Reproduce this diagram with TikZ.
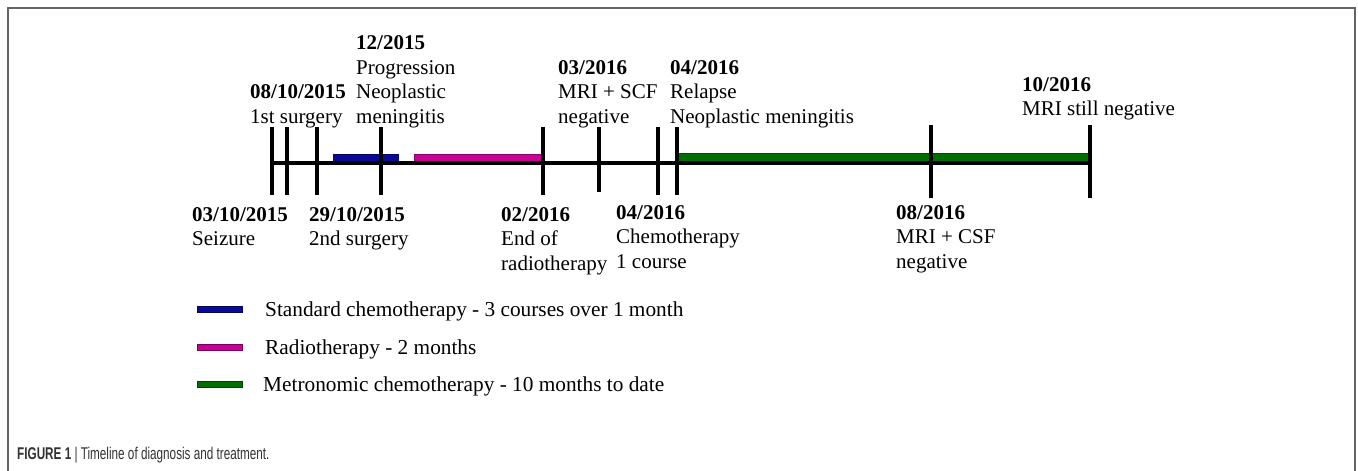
\documentclass[tikz,border=0pt]{standalone}
\usepackage{fontspec}
\setmainfont{Liberation Serif}
\newfontfamily\capfont[FakeStretch=0.69]{Liberation Sans}
\definecolor{chemoblue}{RGB}{10,10,150}
\definecolor{radiomag}{RGB}{200,0,150}
\definecolor{metrogreen}{RGB}{0,110,0}
\definecolor{framegray}{RGB}{100,100,100}
\definecolor{capgray}{RGB}{50,50,50}
\tikzset{
  lbl/.style={anchor=base west, inner sep=0pt, font=\fontsize{21}{24.5}\selectfont},
  dlbl/.style={lbl, font=\fontsize{21}{24.5}\selectfont\bfseries},
  leg/.style={anchor=base west, inner sep=0pt, font=\fontsize{21.3}{25}\selectfont},
  tickline/.style={line width=4pt, black},
  axisline/.style={line width=4pt, black},
  bar/.style={draw=#1!70!black, line width=0.6pt, fill=#1},
  swatch/.style={draw=#1!60!black, line width=1pt, fill=#1},
}
\begin{document}
\begin{tikzpicture}[x=1pt,y=-1pt]
\useasboundingbox (0,0) rectangle (1358,471);
% frame
\draw[framegray, line width=2pt] (8,471) -- (8,8) -- (1355,8) -- (1355,471);
% colored bars
\draw[bar=chemoblue] (333,154) rectangle (398,161);
\draw[bar=radiomag] (414,154) rectangle (541,161);
\draw[bar=metrogreen] (677,153) rectangle (1089,161);
% main axis
\draw[axisline] (271,163) -- (1090,163);
% ticks
\foreach \x/\b in {271.7/195,286.7/195,316.7/195,380.5/195,542.7/195,599/192,658/195,677/195}
  \draw[tickline] (\x,127) -- (\x,\b);
\draw[tickline] (930.5,125) -- (930.5,198);
\draw[tickline] (1090,125) -- (1090,198);
% top labels
\node[dlbl] (a1) at (356,49.5) {12/2015};
\node[lbl]  (a2) at (356,74) {Progression};
\node[lbl]  (a3) at (356,98.5) {Neoplastic};
\node[lbl]  (a4) at (356,123) {meningitis};
\node[dlbl] (b1) at (250,98.5) {08/10/2015};
\node[lbl]  (b2) at (250,123) {1st surgery};
\node[dlbl] (c1) at (558,74) {03/2016};
\node[lbl]  (c2) at (558,98.5) {MRI + SCF};
\node[lbl]  (c3) at (558,123) {negative};
\node[dlbl] (d1) at (670,74) {04/2016};
\node[lbl]  (d2) at (670,98.5) {Relapse};
\node[lbl]  (d3) at (670,123) {Neoplastic meningitis};
\node[dlbl] (e1) at (1022,91) {10/2016};
\node[lbl]  (e2) at (1022,115.5) {MRI still negative};
% bottom labels
\node[dlbl] (f1) at (192,221) {03/10/2015};
\node[lbl]  (f2) at (192,245.5) {Seizure};
\node[dlbl] (g1) at (309,221) {29/10/2015};
\node[lbl]  (g2) at (309,245.5) {2nd surgery};
\node[dlbl] (h1) at (501,221) {02/2016};
\node[lbl]  (h2) at (501,245.5) {End of};
\node[lbl]  (h3) at (501,270) {radiotherapy};
\node[dlbl] (i1) at (616,219) {04/2016};
\node[lbl]  (i2) at (616,243.5) {Chemotherapy};
\node[lbl]  (i3) at (616,268) {1 course};
\node[dlbl] (j1) at (896,219) {08/2016};
\node[lbl]  (j2) at (896,243.5) {MRI + CSF};
\node[lbl]  (j3) at (896,268) {negative};
% legend
\draw[swatch=chemoblue] (197,306) rectangle (242,312);
\draw[swatch=radiomag] (197,344) rectangle (242,350);
\draw[swatch=metrogreen] (197,381) rectangle (242,387);
\node[leg] (l1) at (265,316) {Standard chemotherapy - 3 courses over 1 month};
\node[leg] (l2) at (265,354) {Radiotherapy - 2 months};
\node[leg] (l3) at (263,391) {Metronomic chemotherapy - 10 months to date};
% caption
\node[anchor=base west, inner sep=0pt, text=capgray, font=\capfont\fontsize{17}{19}\selectfont] (cap) at (17,459)
  {\textbf{FIGURE 1} | Timeline of diagnosis and treatment.};
\end{tikzpicture}
\end{document}
